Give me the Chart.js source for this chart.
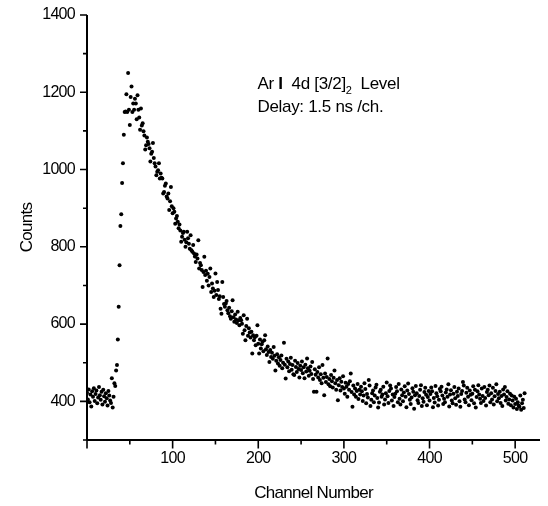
<!DOCTYPE html>
<html>
<head>
<meta charset="utf-8">
<script src="https://cdn.jsdelivr.net/npm/chart.js@4.4.1/dist/chart.umd.min.js"></script>
<style>
  html, body { margin: 0; padding: 0; background: #fff; }
  #wrap { width: 548px; height: 506px; }
</style>
</head>
<body>
<div id="wrap"><canvas id="decayChart" width="548" height="506"></canvas></div>
<script>
// channel of the first value in counts
const firstChannel = 0;

// counts per channel
const counts = [
    422, 405, 431, 398, 418, 387, 426, 412, 434, 401, 419, 428, 395, 410, 437, 416,
    404, 425, 392, 430, 413, 399, 421, 408, 389, 427, 415, 402, 396, 460, 384, 412,
    447, 440, 480, 494, 560, 645, 752, 854, 884, 965, 1016, 1090, 1149, 1150, 1195, 1149,
    1250, 1155, 1115, 1188, 1215, 1149, 1171, 1155, 1183, 1171, 1130, 1192, 1155, 1135, 1103, 1158,
    1114, 1120, 1099, 1088, 1052, 1063, 1083, 1072, 1066, 1055, 1021, 1041, 1046, 1069, 1030, 1016,
    1008, 985, 994, 998, 1016, 977, 990, 979, 977, 938, 942, 958, 964, 930, 925, 938,
    895, 918, 955, 905, 887, 900, 891, 860, 873, 880, 865, 848, 858, 842, 813, 826,
    836, 839, 818, 800, 812, 839, 822, 808, 795, 830, 791, 787, 805, 783, 775, 761,
    780, 770, 817, 744, 758, 752, 740, 696, 735, 774, 727, 738, 712, 730, 700, 722,
    744, 683, 705, 692, 670, 686, 731, 675, 709, 688, 665, 672, 640, 627, 709, 670,
    652, 645, 653, 660, 636, 628, 642, 620, 614, 633, 662, 618, 606, 625, 612, 603,
    632, 610, 597, 616, 610, 601, 575, 623, 584, 558, 595, 614, 570, 589, 578, 565,
    580, 524, 571, 558, 566, 545, 570, 597, 549, 524, 560, 537, 548, 554, 530, 558,
    571, 535, 520, 542, 528, 502, 533, 515, 526, 510, 541, 518, 480, 505, 522, 498,
    514, 492, 507, 519, 486, 500, 552, 495, 459, 510, 488, 503, 478, 497, 513, 482,
    494, 470, 468, 505, 489, 476, 499, 484, 462, 492, 481, 503, 473, 488, 460, 495,
    477, 511, 486, 466, 479, 490, 471, 502, 458, 425, 483, 469, 425, 476, 462, 488,
    455, 470, 447, 494, 461, 416, 472, 450, 463, 511, 444, 458, 439, 468, 452, 436,
    461, 480, 447, 430, 455, 403, 442, 460, 428, 451, 437, 465, 433, 420, 448, 438,
    412, 445, 430, 452, 472, 424, 386, 441, 418, 433, 412, 427, 445, 406, 430, 418,
    438, 426, 401, 415, 447, 432, 395, 419, 410, 455, 441, 388, 404, 421, 428, 398,
    415, 436, 443, 409, 384, 397, 425, 430, 412, 418, 438, 392, 405, 421, 449, 413,
    396, 427, 441, 433, 402, 418, 388, 411, 420, 437, 426, 398, 445, 407, 392, 431,
    416, 400, 423, 439, 412, 385, 428, 446, 419, 404, 393, 410, 434, 425, 381, 416,
    440, 421, 403, 396, 414, 430, 442, 388, 408, 399, 424, 435, 417, 390, 411, 427,
    402, 419, 436, 426, 385, 409, 397, 440, 421, 413, 389, 404, 432, 426, 438, 415,
    393, 407, 398, 423, 431, 412, 444, 387, 418, 429, 402, 395, 420, 437, 408, 391,
    425, 414, 433, 400, 386, 419, 427, 450, 441, 405, 398, 422, 435, 412, 390, 428,
    417, 403, 420, 439, 395, 430, 384, 411, 426, 442, 418, 407, 396, 433, 414, 401,
    437, 409, 389, 424, 430, 416, 441, 398, 421, 405, 435, 392, 413, 427, 444, 400,
    419, 408, 425, 396, 414, 388, 431, 418, 437, 402, 411, 426, 394, 405, 420, 390,
    415, 402, 384, 412, 393, 407, 380, 398, 389, 386, 415, 378, 395, 404, 383, 421
];

const xTickLabels = ['100', '200', '300', '400', '500'];
const yTickLabels = ['400', '600', '800', '1000', '1200', '1400'];

const fontFamily = '"Liberation Sans", Arial, Helvetica, sans-serif';

const points = counts.map((c, i) => ({ x: firstChannel + i, y: c }));

// tighter letter spacing, the original labels are a condensed Helvetica
const tightText = {
    id: 'tightText',
    beforeDraw(chart) {
        chart.ctx.letterSpacing = '-0.7px';
    }
};

// axis lines + major/minor ticks (Origin style, ticks pointing out)
const axesPlugin = {
    id: 'originAxes',
    afterDraw(chart) {
        const ctx = chart.ctx;
        const xs = chart.scales.x;
        const ys = chart.scales.y;
        const left = xs.getPixelForValue(xs.min);
        const right = xs.getPixelForValue(xs.max);
        const bottom = ys.getPixelForValue(ys.min);
        const top = ys.getPixelForValue(ys.max);
        ctx.save();
        ctx.strokeStyle = '#000';
        ctx.lineCap = 'butt';

        ctx.lineWidth = 2;
        ctx.beginPath();
        ctx.moveTo(left, top);
        ctx.lineTo(left, bottom);
        ctx.moveTo(left, bottom);
        ctx.lineTo(right, bottom);
        ctx.stroke();

        ctx.lineWidth = 1.6;
        ctx.beginPath();
        for (let v = 300; v <= 1400; v += 100) {
            const y = ys.getPixelForValue(v);
            const len = v % 200 === 0 ? 7 : 4;
            ctx.moveTo(left, y);
            ctx.lineTo(left - len, y);
        }
        for (let v = 0; v <= 500; v += 50) {
            const x = xs.getPixelForValue(v);
            const len = v % 100 === 0 ? 8.5 : 4.5;
            ctx.moveTo(x, bottom);
            ctx.lineTo(x, bottom + len);
        }
        ctx.stroke();
        ctx.restore();
    }
};

// the level / delay note in the upper right
const notePlugin = {
    id: 'note',
    afterDraw(chart) {
        const ctx = chart.ctx;
        const xs = chart.scales.x;
        const ys = chart.scales.y;
        const x0 = xs.getPixelForValue(199);
        const y1 = ys.getPixelForValue(1220);
        const y2 = ys.getPixelForValue(1160);
        const size = 17;
        const parts = [
            { t: 'Ar ', w: 'normal', s: size, dy: 0 },
            { t: 'I', w: 'bold', s: size, dy: 0 },
            { t: '  4d [3/2]', w: 'normal', s: size, dy: 0 },
            { t: '2', w: 'normal', s: 11, dy: 6 },
            { t: '  Level', w: 'normal', s: size, dy: 0 }
        ];
        ctx.save();
        ctx.letterSpacing = '-0.3px';
        ctx.fillStyle = '#000';
        ctx.textBaseline = 'middle';
        ctx.textAlign = 'left';
        let x = x0;
        for (const p of parts) {
            ctx.font = p.w + ' ' + p.s + 'px ' + fontFamily;
            ctx.fillText(p.t, x, y1 + p.dy);
            x += ctx.measureText(p.t).width;
        }
        ctx.font = 'normal ' + size + 'px ' + fontFamily;
        ctx.fillText('Delay: 1.5 ns /ch.', x0, y2);
        ctx.restore();
    }
};

function stepTicks(from, to, step) {
    const out = [];
    for (let v = from; v <= to; v += step) out.push({ value: v });
    return out;
}

new Chart(document.getElementById('decayChart'), {
    type: 'scatter',
    data: {
        datasets: [{
            data: points,
            pointRadius: 2,
            pointBackgroundColor: '#000',
            pointBorderWidth: 0,
            pointHoverRadius: 2,
            showLine: false
        }]
    },
    options: {
        responsive: false,
        animation: false,
        events: [],
        layout: { padding: { top: 15, right: 8, left: 0, bottom: 0 } },
        plugins: {
            legend: { display: false },
            tooltip: { enabled: false }
        },
        scales: {
            x: {
                type: 'linear',
                min: 0,
                max: 529,
                grid: { display: false },
                border: { display: false },
                ticks: {
                    autoSkip: false,
                    maxRotation: 0,
                    padding: 1,
                    color: '#000',
                    font: { family: fontFamily, size: 16 },
                    callback: v => xTickLabels.includes(String(v)) ? String(v) : ''
                },
                afterBuildTicks: s => { s.ticks = stepTicks(0, 500, 50); },
                title: {
                    display: true,
                    text: 'Channel Number',
                    color: '#000',
                    font: { family: fontFamily, size: 17 },
                    padding: { top: 0, bottom: 2 }
                },
                afterFit: s => { s.height = 66; }
            },
            y: {
                min: 300,
                max: 1400,
                grid: { display: false },
                border: { display: false },
                ticks: {
                    autoSkip: false,
                    padding: 4,
                    color: '#000',
                    font: { family: fontFamily, size: 16 },
                    callback: v => yTickLabels.includes(String(v)) ? String(v) : ''
                },
                afterBuildTicks: s => { s.ticks = stepTicks(300, 1400, 100); },
                title: {
                    display: true,
                    text: 'Counts',
                    color: '#000',
                    font: { family: fontFamily, size: 17 },
                    padding: { top: 17, bottom: 0 }
                },
                afterFit: s => { s.width = 87; }
            }
        }
    },
    plugins: [tightText, axesPlugin, notePlugin]
});
</script>
</body>
</html>
